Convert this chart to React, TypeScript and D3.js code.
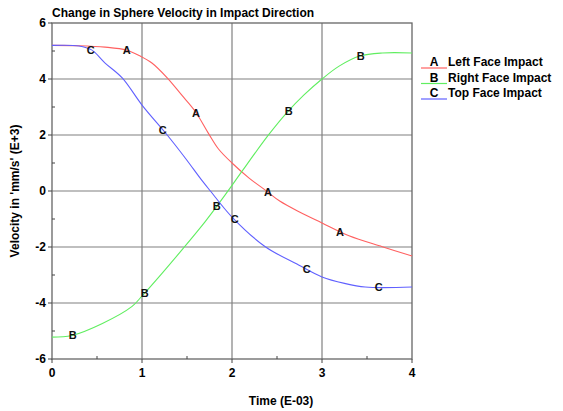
import * as d3 from 'd3';

// Data (time in E-03, velocity in mm/s E+3)
const timeA = [0, 0.3, 0.59, 0.83, 0.98, 1.11, 1.28, 1.44, 1.59, 1.74, 1.85, 2.0, 2.19, 2.37, 2.53, 2.75, 3.0, 3.3, 3.67, 4.0];
const velA = [5.2, 5.19, 5.14, 5.03, 4.82, 4.57, 4.04, 3.43, 2.85, 2.05, 1.5, 1.0, 0.46, 0.03, -0.36, -0.75, -1.14, -1.6, -1.99, -2.32];

const timeB = [0, 0.22, 0.56, 0.89, 1.0, 1.22, 1.46, 1.7, 1.83, 2.0, 2.11, 2.41, 2.61, 2.8, 3.0, 3.19, 3.42, 3.67, 4.0];
const velB = [-5.22, -5.16, -4.73, -4.12, -3.75, -2.95, -2.04, -1.1, -0.55, 0.2, 0.7, 2.02, 2.8, 3.43, 4.0, 4.46, 4.82, 4.93, 4.93];

const timeC = [0, 0.3, 0.44, 0.59, 0.78, 1.0, 1.28, 1.48, 1.67, 1.76, 2.0, 2.37, 2.74, 3.0, 3.25, 3.48, 4.0];
const velC = [5.2, 5.18, 5.04, 4.57, 4.04, 3.07, 2.0, 1.18, 0.36, 0.0, -0.93, -1.99, -2.64, -3.07, -3.3, -3.43, -3.43];

// where the letter markers sit along each curve
const markA = [0.83, 1.6, 2.4, 3.2];
const markB = [0.23, 1.03, 1.83, 2.63, 3.43];
const markC = [0.43, 1.23, 2.03, 2.83, 3.63];

const seriesNames = ['Left Face Impact', 'Right Face Impact', 'Top Face Impact'];
const seriesLetters = ['A', 'B', 'C'];
const seriesColors = ['#ff6060', '#60ee60', '#6060ff'];

const xTicks = [0, 1, 2, 3, 4];
const yTicks = [-6, -4, -2, 0, 2, 4, 6];
const xMinor = [0.5, 1.5, 2.5, 3.5];
const yMinor = [-5, -3, -1, 1, 3, 5];

const width = 563;
const height = 411;
const margin = { top: 23, right: 151, bottom: 52, left: 52 };

const font = '"Liberation Sans", Arial, sans-serif';

export default function App() {
  const x = d3.scaleLinear().domain([0, 4]).range([margin.left, width - margin.right]);
  const y = d3.scaleLinear().domain([-6, 6]).range([height - margin.bottom, margin.top]);

  const series = [
    { t: timeA, v: velA, marks: markA },
    { t: timeB, v: velB, marks: markB },
    { t: timeC, v: velC, marks: markC },
  ];

  const line = d3
    .line<[number, number]>()
    .x((d) => x(d[0]))
    .y((d) => y(d[1]))
    .curve(d3.curveCatmullRom.alpha(0.5));

  // linear lookup of a curve value at time tt
  const valueAt = (t: number[], v: number[], tt: number) => {
    const i = Math.max(1, d3.bisectLeft(t, tt));
    const f = (tt - t[i - 1]) / (t[i] - t[i - 1]);
    return v[i - 1] + f * (v[i] - v[i - 1]);
  };

  const [x0, x1] = x.range();
  const [y0, y1] = y.range();

  return (
    <svg
      width={width}
      height={height}
      style={{ position: 'absolute', left: 0, top: 0, background: '#fff' }}
      fontFamily={font}
    >
      {/* grid */}
      {xTicks.slice(1, -1).map((t) => (
        <line key={'gx' + t} x1={x(t)} x2={x(t)} y1={y1} y2={y0} stroke="#808080" strokeWidth={1.2} />
      ))}
      {yTicks.slice(1, -1).map((t) => (
        <line key={'gy' + t} x1={x0} x2={x1} y1={y(t)} y2={y(t)} stroke="#808080" strokeWidth={1.2} />
      ))}

      {/* frame */}
      <rect x={x0} y={y1} width={x1 - x0} height={y0 - y1} fill="none" stroke="#666" strokeWidth={1.3} />

      {/* major ticks (outward) and minor ticks (inward) */}
      {xTicks.map((t) => (
        <line key={'tx' + t} x1={x(t)} x2={x(t)} y1={y0} y2={y0 + 4} stroke="#444" />
      ))}
      {xMinor.map((t) => (
        <line key={'mx' + t} x1={x(t)} x2={x(t)} y1={y0} y2={y0 - 3} stroke="#444" />
      ))}
      {yTicks.map((t) => (
        <line key={'ty' + t} x1={x0 - 4} x2={x0} y1={y(t)} y2={y(t)} stroke="#444" />
      ))}
      {yMinor.map((t) => (
        <line key={'my' + t} x1={x0} x2={x0 + 3} y1={y(t)} y2={y(t)} stroke="#444" />
      ))}

      {/* tick labels */}
      {xTicks.map((t) => (
        <text key={'lx' + t} x={x(t)} y={y0 + 18} textAnchor="middle" fontSize={12} fontWeight="bold">
          {t}
        </text>
      ))}
      {yTicks.map((t) => (
        <text key={'ly' + t} x={x0 - 6} y={y(t) + 4} textAnchor="end" fontSize={12} fontWeight="bold">
          {t}
        </text>
      ))}

      {/* curves */}
      {series.map((s, i) => (
        <path
          key={'s' + i}
          d={line(s.t.map((tt, j) => [tt, s.v[j]] as [number, number])) || ''}
          fill="none"
          stroke={seriesColors[i]}
          strokeWidth={1.1}
        />
      ))}

      {/* letter markers */}
      {series.map((s, i) =>
        s.marks.map((m) => (
          <text
            key={'m' + i + m}
            x={x(m)}
            y={y(valueAt(s.t, s.v, m)) + 4}
            textAnchor="middle"
            fontSize={11}
            fontWeight="bold"
            fill="#111"
          >
            {seriesLetters[i]}
          </text>
        )),
      )}

      {/* title and axis labels */}
      <text x={x0} y={17} fontSize={12} fontWeight="bold">
        Change in Sphere Velocity in Impact Direction
      </text>
      <text x={281} y={405} textAnchor="middle" fontSize={12} fontWeight="bold">
        Time (E-03)
      </text>
      <text
        transform={`translate(19, ${(y0 + y1) / 2}) rotate(-90)`}
        textAnchor="middle"
        fontSize={12}
        fontWeight="bold"
      >
        Velocity in 'mm/s' (E+3)
      </text>

      {/* legend */}
      {seriesNames.map((name, i) => (
        <g key={'lg' + i} transform={`translate(421, ${66 + i * 15.5})`}>
          <line x1={0} x2={26} y1={2} y2={2} stroke={seriesColors[i]} strokeWidth={1.2} />
          <text x={13} y={0} textAnchor="middle" fontSize={12} fontWeight="bold">
            {seriesLetters[i]}
          </text>
          <text x={27} y={0} fontSize={12} fontWeight="bold">
            {name}
          </text>
        </g>
      ))}
    </svg>
  );
}
